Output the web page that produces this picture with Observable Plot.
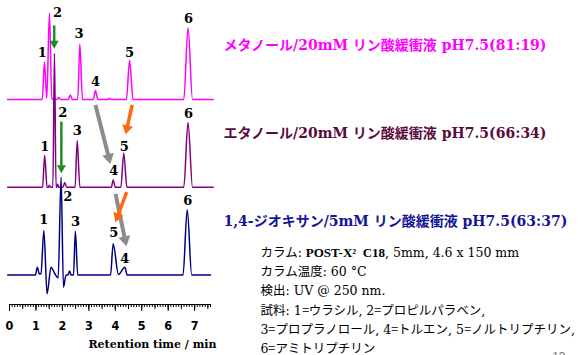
<!DOCTYPE html>
<html><head><meta charset="utf-8">
<script src="https://cdn.jsdelivr.net/npm/d3@7"></script>
<script src="https://cdn.jsdelivr.net/npm/@observablehq/plot@0.6"></script>
<style>
html,body{margin:0;padding:0;background:#fff;}
#chart svg{display:block;}
@font-face { font-family: "NarrowEq"; src: local("Liberation Serif"), local("LiberationSerif"); unicode-range: U+003D; }
</style>
</head><body><div id="chart"></div>
<script>
// ---------- data ----------
const seriesKeys = ["methanol", "ethanol", "dioxane"];
const seriesTitles = [
  "メタノール/20mM リン酸緩衝液 pH7.5(81:19)",
  "エタノール/20mM リン酸緩衝液 pH7.5(66:34)",
  "1,4-ジオキサン/5mM リン酸緩衝液 pH7.5(63:37)"
];

// chromatogram vertices: retention time (min) and detector signal (arbitrary units)
const methanolTime   = [-0.07, 1.24, 1.32, 1.41, 1.51, 1.60, 1.80, 1.86, 1.93, 2.22, 2.30, 2.38, 2.58, 2.66, 2.76, 3.17, 3.25, 3.34, 3.72, 3.78, 3.84, 4.42, 4.54, 4.67, 6.59, 6.75, 6.92, 7.70];
const methanolSignal = [0,     0,    37.3, 1,    86.7, 0.5,  0,    2,    0,    0,    4.3,  0,    0,    55.5, 0,    0,    9,    0,    0,    1,    0,    0,    39,   0,    0,    71.7, 0,    0];

const ethanolTime   = [-0.07, 1.25, 1.33, 1.42, 1.47, 1.50, 1.55, 1.64, 1.70, 1.76, 1.79, 1.82, 1.86, 2.02, 2.09, 2.16, 2.48, 2.56, 2.66, 3.85, 3.92, 4.00, 4.21, 4.32, 4.44, 6.59, 6.75, 6.92, 7.70];
const ethanolSignal = [0,     0,    31.6, 0,    0,    2,    0,    0,    134,  0,    0,    3,    0,    0,    4.6,  0,    0,    46.8, 0,    0,    7.3,  0,    0,    34,   0,    0,    64.6, 0,    0];

const dioxaneTime   = [-0.07, 0.98, 1.05, 1.13, 1.19, 1.30, 1.42,  1.57, 1.72, 1.84, 1.95, 2.04,  2.14, 2.21, 2.27, 2.33, 2.42, 2.49, 2.58, 3.82, 3.92, 4.12, 4.36, 4.45, 6.56, 6.72, 6.89, 7.60];
const dioxaneSignal = [0,     0,    7.8,  1,    1.5,  44.5, -18.8, 7.8,  1,    -3,   97.8, -12.2, 0,    0,    4,    0,    0,    43.8, 0,    0,    31.2, 0.5,  7.8,  0,    0,    65.2, 0,    0];

// peak number labels
const peakNumbers = ["1", "2", "3", "4", "5", "6"];
const methanolLabelTime   = [1.24, 1.82, 2.63, 3.25, 4.54, 6.77];
const methanolLabelSignal = [46.7, 86.7, 66,   18,   46.7, 80.7];
const ethanolLabelTime    = [1.33, 2.01, 2.56, 3.94, 4.34, 6.77];
const ethanolLabelSignal  = [40.6, 74,   56.3, 16.6, 40.6, 73.3];
const dioxaneLabelTime    = [1.30, 2.20, 2.50, 4.36, 3.94, 6.74];
const dioxaneLabelSignal  = [55.2, 77.8, 52.8, 16.2, 41.8, 73.8];

// annotation arrows (start -> shaft end)
const arrowSeries  = ["methanol", "ethanol", "ethanol", "ethanol", "dioxane", "dioxane"];
const arrowKind    = ["green",    "green",   "gray",    "orange",  "gray",    "orange"];
const arrowTime1   = [1.69, 1.96, 3.25, 4.64, 4.01, 4.43];
const arrowSignal1 = [74,   65.6, 82.3, 82.3, 81.2, 82.8];
const arrowTime2   = [1.69, 1.96, 3.78, 4.42, 4.39, 4.05];
const arrowSignal2 = [53.7, 17,   27.2, 56.4, 32.7, 56.1];

// axis
const tickValues = [0, 1, 2, 3, 4, 5, 6, 7];
const tickLabels = ["0", "1", "2", "3", "4", "5", "6", "7"];
const axisTitle = "Retention time / min";

// conditions
const columnName = "POST-X²  C18";
const conditionLines = [
  "カラム: " + columnName + ", 5mm, 4.6 x 150 mm",
  "カラム温度: 60 °C",
  "検出: UV @ 250 nm.",
  "試料: 1=ウラシル, 2=プロピルパラベン,",
  "3=プロプラノロール, 4=トルエン, 5=ノルトリプチリン,",
  "6=アミトリプチリン"
];
const pageNumber = "13";

// ---------- styles / layout ----------
const traceColors = {methanol: "#ff00ff", ethanol: "#800080", dioxane: "#000080"};
const titleColors = {methanol: "#ff00ff", ethanol: "#5c0a3c", dioxane: "#151595"};
const arrowStyle = {
  green:  {stroke: "#1f8f1f", width: 2.5, len: 8,  wid: 9,  back: 3},
  gray:   {stroke: "#8c8c8c", width: 4,   len: 10, wid: 12, back: 4},
  orange: {stroke: "#ff6a10", width: 3.5, len: 9,  wid: 11, back: 3.5}
};
const stackStep = 87.8;
const titleLift = 53.4;
const yDomain = [-29.5, 274.5];
const serifCJK = "'DejaVu Serif', 'Noto Sans CJK JP', serif";
const conditionFont = "NarrowEq, 'DejaVu Serif', 'Noto Sans CJK JP', serif";

const offsetOf = key => (seriesKeys.length - 1 - seriesKeys.indexOf(key)) * stackStep;

const traceData = {
  methanol: [methanolTime, methanolSignal],
  ethanol: [ethanolTime, ethanolSignal],
  dioxane: [dioxaneTime, dioxaneSignal]
};
const labelData = {
  methanol: [methanolLabelTime, methanolLabelSignal],
  ethanol: [ethanolLabelTime, ethanolLabelSignal],
  dioxane: [dioxaneLabelTime, dioxaneLabelSignal]
};

const traceRows = seriesKeys.flatMap(k => traceData[k][0].map((t, i) => ({series: k, t, s: traceData[k][1][i]})));
const labelRows = seriesKeys.flatMap(k => labelData[k][0].map((t, i) => ({series: k, t, s: labelData[k][1][i], n: peakNumbers[i]})));
const arrowRows = arrowSeries.map((k, i) => ({series: k, kind: arrowKind[i], t1: arrowTime1[i], s1: arrowSignal1[i], t2: arrowTime2[i], s2: arrowSignal2[i]}));
const titleRows = seriesKeys.map((k, i) => ({series: k, title: seriesTitles[i]}));

// filled triangular arrow head; the shaft ends `back` px behind the tip
function headMarker({len, wid, back}) {
  return (color, context) => {
    const ns = "http://www.w3.org/2000/svg";
    const doc = context.document;
    const m = doc.createElementNS(ns, "marker");
    m.setAttribute("viewBox", `${-len} ${-wid / 2} ${len} ${wid}`);
    m.setAttribute("markerUnits", "userSpaceOnUse");
    m.setAttribute("markerWidth", len);
    m.setAttribute("markerHeight", wid);
    m.setAttribute("refX", -back);
    m.setAttribute("refY", 0);
    m.setAttribute("orient", "auto");
    m.setAttribute("overflow", "visible");
    const p = doc.createElementNS(ns, "path");
    p.setAttribute("d", `M${-len},${-wid / 2}L0,0L${-len},${wid / 2}Z`);
    p.setAttribute("fill", color);
    p.setAttribute("stroke", "none");
    m.appendChild(p);
    return m;
  };
}

const marks = [];
// axis ruler
marks.push(Plot.ruleY([yDomain[0]], {stroke: "black", strokeWidth: 1.2}));
marks.push(Plot.axisX(d3.range(0, 77).map(i => i / 10), {tickSize: 3, fill: "none", label: null, stroke: "black"}));
marks.push(Plot.axisX(d3.range(0, 16).map(i => i / 2), {tickSize: 5, fill: "none", label: null, stroke: "black"}));
marks.push(Plot.axisX(tickValues, {
  tickSize: 7, tickPadding: 10, label: null, stroke: "black", fill: "black",
  tickFormat: d => tickLabels[tickValues.indexOf(d)],
  fontFamily: "'Liberation Sans Narrow', 'DejaVu Sans Condensed', 'Liberation Sans', sans-serif",
  fontWeight: "bold", fontSize: 12.5
}));
marks.push(Plot.text([axisTitle], {
  frameAnchor: "bottom-right", dx: 6, dy: 43, textAnchor: "end",
  fontFamily: "'DejaVu Serif', serif", fontWeight: "bold", fontSize: 11, fill: "black"
}));

// traces
for (const k of seriesKeys) {
  marks.push(Plot.line(traceRows.filter(d => d.series === k), {
    x: "t", y: d => d.s + offsetOf(d.series), curve: "monotone-x",
    stroke: traceColors[k], strokeWidth: 1.5
  }));
}
// peak labels
marks.push(Plot.text(labelRows, {
  x: "t", y: d => d.s + offsetOf(d.series), text: "n",
  fontFamily: "'DejaVu Serif', serif", fontWeight: "bold", fontSize: 13, fill: "black"
}));
// arrows
for (const kind of ["green", "gray", "orange"]) {
  const st = arrowStyle[kind];
  marks.push(Plot.link(arrowRows.filter(d => d.kind === kind), {
    x1: "t1", y1: d => d.s1 + offsetOf(d.series),
    x2: "t2", y2: d => d.s2 + offsetOf(d.series),
    stroke: st.stroke, strokeWidth: st.width, markerEnd: headMarker(st)
  }));
}
// titles
for (const k of seriesKeys) {
  marks.push(Plot.text(titleRows.filter(d => d.series === k), {
    y: d => offsetOf(d.series) + titleLift, text: "title",
    frameAnchor: "right", dx: 13, textAnchor: "start",
    fontFamily: serifCJK, fontWeight: "bold", fontSize: 14, fill: titleColors[k]
  }));
}
// conditions
marks.push(Plot.text([conditionLines.join("\n")], {
  frameAnchor: "bottom-right", dx: 50, dy: -5.65, textAnchor: "start", lineAnchor: "middle",
  lineHeight: 1.53, fontFamily: conditionFont, fontSize: 12.5, fill: "black"
}));
marks.push(Plot.text([pageNumber], {
  frameAnchor: "bottom-right", dx: 355, dy: 48, lineAnchor: "top",
  fontFamily: "'Liberation Sans', sans-serif", fontSize: 12, fill: "#777"
}));

const chart = Plot.plot({
  width: 580, height: 355,
  marginLeft: 9, marginRight: 370, marginTop: 0, marginBottom: 51,
  x: {domain: [0, 7.6]},
  y: {domain: yDomain, axis: null},
  style: {background: "white"},
  marks
});

// bold column name within the first condition line
d3.select(chart).selectAll("text, tspan").filter(function () {
  return this.childElementCount === 0 && this.textContent === conditionLines[0];
}).each(function () {
  const [before, after] = conditionLines[0].split(columnName);
  this.textContent = "";
  const sel = d3.select(this);
  sel.append("tspan").text(before);
  sel.append("tspan").attr("font-family", "'Liberation Serif', serif").attr("font-weight", "bold").attr("font-size", 13).text(columnName);
  sel.append("tspan").text(after);
});

document.getElementById("chart").appendChild(chart);
</script></body></html>
